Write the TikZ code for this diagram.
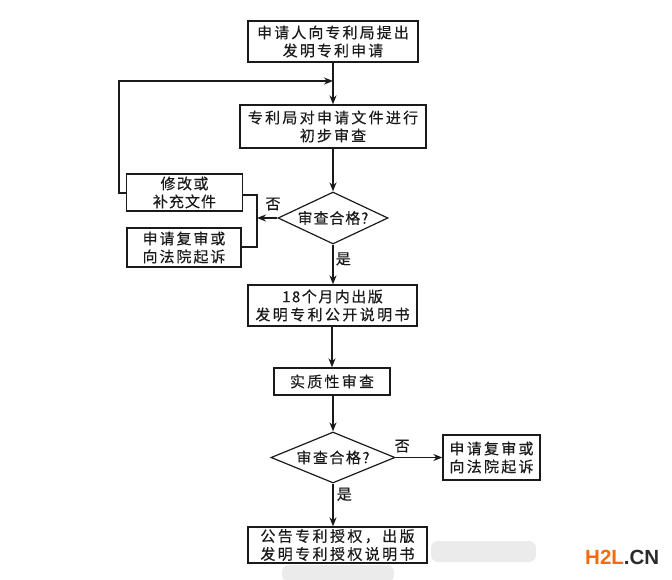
\documentclass[tikz,border=0pt]{standalone}
\usepackage{fontspec}
\usetikzlibrary{arrows.meta,shapes.geometric,calc}
\setmainfont{Liberation Sans}
\newfontfamily\cjk[FakeBold=0.3]{Noto Sans CJK SC}
\definecolor{ink}{HTML}{1A1A1A}
\definecolor{smudge}{HTML}{EBEBEB}
\definecolor{logoorange}{HTML}{F46A0E}
\definecolor{logodark}{HTML}{2B2B2B}
\newcommand{\ls}[1]{\addfontfeature{LetterSpace=#1}}
\tikzset{
  box/.style={draw=ink,line width=1.3pt,inner sep=0pt,align=center,text=ink,font=\cjk\fontsize{15}{18}\selectfont},
  dec/.style={draw=ink,line width=1.2pt,diamond,inner sep=0pt,text=ink,font=\cjk\fontsize{15}{18}\selectfont},
  flow/.style={draw=ink,line width=1.7pt,-{Stealth[length=9pt,width=7pt]}},
  plain/.style={draw=ink,line width=1.2pt},
  tag/.style={text=ink,inner sep=0pt,font=\cjk\fontsize{15}{16}\selectfont},
  smudgeblob/.style={fill=smudge,draw=none,rounded corners=7pt}
}
\begin{document}
\begin{tikzpicture}[x=1pt,y=-1pt]
\useasboundingbox (0,0) rectangle (672,579);
\fill[smudgeblob] (431,541) rectangle (536,562);
\fill[smudgeblob] (282,565) rectangle (394,582);
\node[box,minimum width=170pt,minimum height=41pt] (apply) at (333,41.5) {\ls{14}申请人向专利局提出\\\ls{14}发明专利申请};
\node[box,minimum width=186pt,minimum height=43pt] (prelim) at (333,126.5) {\ls{15}专利局对申请文件进行\\\ls{14}初步审查};
\node[dec,minimum width=110pt,minimum height=52pt,aspect=2.1] (check1) at (333,218) {\ls{6}审查合格?};
\node[box,minimum width=116pt,minimum height=37pt] (amend) at (184.5,192.5) {\ls{10}修改或\\\ls{7}补充文件};
\node[box,minimum width=114pt,minimum height=39pt] (review1) at (184,247.5) {\ls{13}申请复审或\\\ls{13}向法院起诉};
\node[box,minimum width=169pt,minimum height=41pt] (publish) at (332.5,305.5) {\ls{10}18个月内出版\\\ls{16}发明专利公开说明书};
\node[box,minimum width=116pt,minimum height=27pt] (subst) at (332,381.5) {\ls{15}实质性审查};
\node[dec,minimum width=124pt,minimum height=51pt,aspect=2.4] (check2) at (333,457.5) {\ls{10}审查合格?};
\node[box,minimum width=97pt,minimum height=45pt] (review2) at (491.5,457.5) {\ls{15}申请复审或\\\ls{15}向法院起诉};
\node[box,minimum width=179pt,minimum height=36pt] (grant) at (337.5,545) {\ls{16}公告专利授权^^^^ff0c出版\\\ls{16}发明专利授权说明书};
\coordinate (fbcorner1) at (119,193);
\coordinate (fbcorner2) at (119,81);
\coordinate (fbend) at (333,81);
\coordinate (brk) at (257,218);
\coordinate (brktop) at (257,195);
\coordinate (brkbot) at (257,247);
\draw[flow] (apply.south -| check1.north) -- (prelim.north -| check1.north);
\draw[flow] (prelim.south -| check1.north) -- (check1.north);
\draw[flow] (check1.south) -- (publish.north -| check1.north) node[pos=.36,right=2pt,tag] {是};
\draw[flow] (publish.south -| subst.north) -- (subst.north);
\draw[flow] (subst.south -| check2.north) -- (check2.north);
\draw[flow] (check2.south) -- (grant.north -| check2.south) node[pos=.25,right=3pt,tag] {是};
\draw[flow] (check2.east) -- (review2.west) node[pos=.14,above=4pt,tag] {否};
\draw[flow] (check1.west) -- (brk);
\node[tag] (no1) at (273,204) {否};
\draw[plain] (amend.east |- brktop) -- (brktop) -- (brkbot) -- (review1.east |- brkbot);
\draw[flow] (amend.west |- fbcorner1) -- (fbcorner1) -- (fbcorner2) -- (fbend);
\node[inner sep=0pt,anchor=west,font=\bfseries\fontsize{20.5}{20}\selectfont] (logo) at (585,557) {\textcolor{logoorange}{H2L}\textcolor{logodark}{.CN}};
\end{tikzpicture}
\end{document}
